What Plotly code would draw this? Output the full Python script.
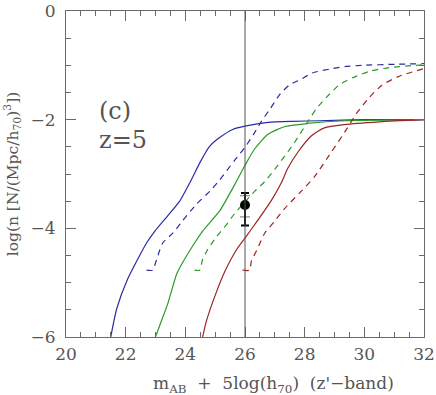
import plotly.graph_objects as go

# ── Data (magnitude vs log number density) ──
BLUE_SOLID_X = [21.5, 21.7, 22.07, 22.7, 22.98, 23.38, 23.81, 24.2, 24.48, 24.8, 25.15, 25.59, 26.0, 26.77, 27.6, 28.5, 30.0, 32.0]
BLUE_SOLID_Y = [-6.0, -5.48, -4.93, -4.27, -4.05, -3.79, -3.5, -3.11, -2.8, -2.5, -2.33, -2.18, -2.12, -2.05, -2.03, -2.02, -2.0, -2.0]

GREEN_SOLID_X = [23.0, 23.2, 23.41, 23.71, 23.91, 24.31, 24.58, 25.15, 25.65, 26.0, 26.32, 26.77, 27.32, 28.1, 29.33, 32.0]
GREEN_SOLID_Y = [-6.0, -5.7, -5.39, -4.84, -4.63, -4.27, -4.05, -3.68, -3.2, -2.84, -2.54, -2.27, -2.13, -2.07, -2.02, -2.0]

RED_SOLID_X = [24.58, 24.71, 25.05, 25.32, 25.72, 26.0, 26.43, 26.88, 27.21, 27.43, 27.77, 28.22, 28.66, 29.33, 30.5, 32.0]
RED_SOLID_Y = [-6.0, -5.7, -5.16, -4.8, -4.39, -4.18, -3.85, -3.49, -3.17, -2.9, -2.6, -2.3, -2.15, -2.09, -2.04, -2.0]

BLUE_DASH_X = [22.7, 22.9, 23.04, 23.24, 23.58, 23.91, 24.38, 24.82, 25.15, 25.65, 26.0, 26.32, 26.54, 26.82, 27.16, 27.49, 27.83, 28.26, 28.83, 29.4, 29.93, 31.07, 32.0]
BLUE_DASH_Y = [-4.77, -4.77, -4.57, -4.27, -4.09, -3.86, -3.55, -3.32, -3.11, -2.75, -2.51, -2.24, -2.04, -1.82, -1.54, -1.36, -1.27, -1.14, -1.07, -1.02, -1.0, -0.98, -0.97]

GREEN_DASH_X = [24.31, 24.48, 24.58, 24.75, 25.05, 25.38, 25.65, 26.32, 26.66, 27.1, 27.66, 28.1, 28.39, 28.73, 29.16, 29.6, 30.17, 30.84, 31.74, 32.0]
GREEN_DASH_Y = [-4.77, -4.77, -4.57, -4.39, -4.15, -3.93, -3.73, -3.32, -3.14, -2.84, -2.42, -2.04, -1.8, -1.59, -1.36, -1.23, -1.11, -1.04, -1.0, -0.99]

RED_DASH_X = [25.92, 26.15, 26.22, 26.39, 26.66, 26.99, 27.32, 27.88, 28.33, 28.89, 29.4, 29.73, 30.17, 30.6, 31.17, 32.0]
RED_DASH_Y = [-4.77, -4.77, -4.59, -4.41, -4.09, -3.87, -3.64, -3.32, -3.05, -2.6, -2.18, -1.89, -1.59, -1.36, -1.2, -1.06]

MAG_LIMIT = 26.0
OBS_X = [26.0]
OBS_Y = [-3.57]
OBS_ERR_UP = [0.22]
OBS_ERR_DOWN = [0.38]
OBS_ERR2_UP = [0.17]
OBS_ERR2_DOWN = [0.22]

# ── Styling ──
BLUE = "#2b2ba6"
GREEN = "#2a9a2a"
RED = "#9c2424"
AXIS = "#6a6a6a"
TEXT = "#555555"
FONT = "DejaVu Serif"

fig = go.Figure()

curves = [
    (BLUE_SOLID_X, BLUE_SOLID_Y, BLUE, "solid"),
    (GREEN_SOLID_X, GREEN_SOLID_Y, GREEN, "solid"),
    (RED_SOLID_X, RED_SOLID_Y, RED, "solid"),
    (BLUE_DASH_X, BLUE_DASH_Y, BLUE, "6px,5px"),
    (GREEN_DASH_X, GREEN_DASH_Y, GREEN, "6px,5px"),
    (RED_DASH_X, RED_DASH_Y, RED, "6px,5px"),
]
for xs, ys, col, dash in curves:
    fig.add_trace(go.Scatter(
        x=xs, y=ys, mode="lines",
        line=dict(color=col, width=1.2, dash=dash, shape="spline", smoothing=0.6),
        showlegend=False, hoverinfo="skip",
    ))

# vertical magnitude limit
fig.add_vline(x=MAG_LIMIT, line=dict(color="#555555", width=1))

# observed point with two error bars
fig.add_trace(go.Scatter(
    x=OBS_X, y=OBS_Y, mode="markers",
    marker=dict(size=1, color="rgba(0,0,0,0)"),
    error_y=dict(type="data", symmetric=False, array=OBS_ERR2_UP,
                 arrayminus=OBS_ERR2_DOWN, color="#777777", thickness=1, width=5),
    showlegend=False,
))
fig.add_trace(go.Scatter(
    x=OBS_X, y=OBS_Y, mode="markers",
    marker=dict(size=10, color="black"),
    error_y=dict(type="data", symmetric=False, array=OBS_ERR_UP,
                 arrayminus=OBS_ERR_DOWN, color="black", thickness=2, width=4),
    showlegend=False,
))

axis_common = dict(
    showline=True, linecolor=AXIS, linewidth=1, mirror="allticks",
    ticks="inside", ticklen=10, tickcolor=AXIS, tickwidth=1,
    showgrid=False, zeroline=False, ticklabeloverflow="allow",
    tickfont=dict(family=FONT, size=17, color=TEXT),
    minor=dict(dtick=0.5, ticks="inside", ticklen=5, tickcolor=AXIS),
)

fig.update_layout(
    width=436, height=395,
    margin=dict(l=66, r=11, t=1, b=58),
    paper_bgcolor="white", plot_bgcolor="white",
    font=dict(family=FONT, color=TEXT),
    xaxis=dict(range=[20, 32], dtick=2, tick0=20, ticklabelstandoff=2, **axis_common),
    yaxis=dict(range=[-6, 0], dtick=2, tick0=0, ticklabelstandoff=6, **axis_common),
    annotations=[
        dict(text="(c)", x=21.04, y=-1.84, xref="x", yref="y", xanchor="left",
             showarrow=False, font=dict(family=FONT, size=24, color=TEXT)),
        dict(text="z=5", x=21.04, y=-2.38, xref="x", yref="y", xanchor="left",
             showarrow=False, font=dict(family=FONT, size=24, color=TEXT)),
        dict(text="m<sub>AB</sub>  +  5log(h<sub>70</sub>)  (z'\u2212band)",
             x=0.58, y=-0.145, xref="paper", yref="paper",
             xanchor="center", yanchor="middle",
             showarrow=False, font=dict(family=FONT, size=17, color=TEXT)),
        dict(text="log(n [N/(Mpc/h<sub>70</sub>)<sup>3</sup>])",
             x=-0.15, y=0.5, xref="paper", yref="paper", textangle=-90,
             xanchor="center", yanchor="middle",
             showarrow=False, font=dict(family=FONT, size=15.5, color=TEXT)),
    ],
)

fig.write_html("out.html", config={"displayModeBar": False},
               post_script="document.body.style.margin='0px';")
